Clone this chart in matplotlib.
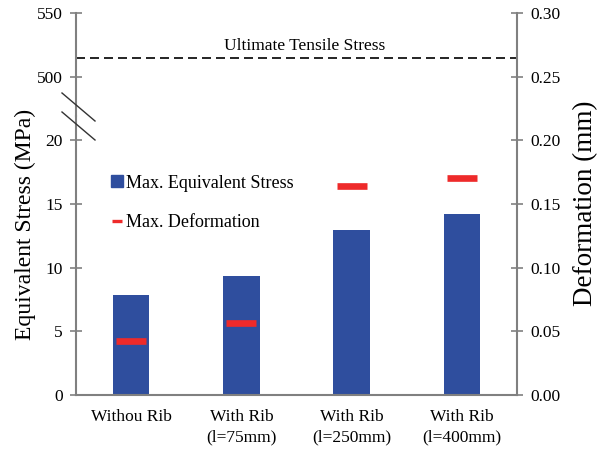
import matplotlib
matplotlib.use("Agg")
import matplotlib.pyplot as plt
from matplotlib.lines import Line2D

plt.rcParams['font.family'] = ['Liberation Serif', 'DejaVu Serif']

categories = ["Withou Rib", "With Rib\n(l=75mm)", "With Rib\n(l=250mm)", "With Rib\n(l=400mm)"]
stress = [7.87, 9.38, 12.95, 14.25]          # MPa
deformation = [0.0424, 0.0568, 0.1644, 0.1702]  # mm
uts = 515                                     # MPa
low_ticks = [0, 5, 10, 15, 20]
high_ticks = [500, 550]
def_ticks = [0.00, 0.05, 0.10, 0.15, 0.20, 0.25, 0.30]

BLUE = '#2F4E9E'
RED = '#EE2A2A'
GRAY = '#808080'

W, H = 605, 450
fig = plt.figure(figsize=(W / 100, H / 100), dpi=100)

def fx(px):
    return px / W

def fy(py):
    return 1 - py / H

x_left, x_right = 76, 517
y_bot, y_break, y_top = 395, 116, 13
wfrac = fx(x_right) - fx(x_left)

ax_lo = fig.add_axes([fx(x_left), fy(y_bot), wfrac, fy(y_break) - fy(y_bot)])
ax_hi = fig.add_axes([fx(x_left), fy(y_break), wfrac, fy(y_top) - fy(y_break)])
ax_r = fig.add_axes([fx(x_left), fy(y_bot), wfrac, fy(y_top) - fy(y_bot)])

px_per_unit = (y_bot - y_top) / 30.0
xs = list(range(len(categories)))

# lower stress axis
ax_lo.bar(xs, stress, width=0.33, color=BLUE, zorder=2)
ax_lo.set_xlim(-0.5, len(categories) - 0.5)
ax_lo.set_ylim(0, (y_bot - y_break) / px_per_unit)
ax_lo.set_yticks(low_ticks)
ax_lo.set_xticks(xs)
ax_lo.set_xticklabels(categories, fontsize=12.5, linespacing=1.4)
ax_lo.tick_params(axis='x', length=0, pad=10)
ax_lo.tick_params(axis='y', direction='inout', length=9, width=1.2, color=GRAY, labelsize=12.5, pad=5)
for s in ['top', 'right']:
    ax_lo.spines[s].set_visible(False)
for s in ['left', 'bottom']:
    ax_lo.spines[s].set_color(GRAY)
    ax_lo.spines[s].set_linewidth(1.5)

# upper stress axis
ax_hi.set_xlim(-0.5, len(categories) - 0.5)
ax_hi.set_ylim(550 - (y_break - y_top) / px_per_unit * 10, 550)
ax_hi.set_yticks(high_ticks)
ax_hi.set_xticks([])
ax_hi.tick_params(axis='y', direction='inout', length=9, width=1.2, color=GRAY, labelsize=12.5, pad=5)
for s in ['top', 'right', 'bottom']:
    ax_hi.spines[s].set_visible(False)
ax_hi.spines['left'].set_color(GRAY)
ax_hi.spines['left'].set_linewidth(1.5)
ax_hi.patch.set_alpha(0)
ax_hi.axhline(uts, color='black', lw=1.2, linestyle=(0, (5.4, 3.0)))
ax_hi.text((305 - x_left) / (x_right - x_left), (y_break - 46) / (y_break - y_top),
           "Ultimate Tensile Stress", transform=ax_hi.transAxes,
           ha='center', va='center', fontsize=12.5)

# deformation axis (right)
ax_r.patch.set_alpha(0)
ax_r.set_xlim(-0.5, len(categories) - 0.5)
ax_r.set_ylim(0, 0.30)
ax_r.plot(xs, deformation, linestyle='none', marker='_', markersize=21,
          markeredgewidth=4.8, color=RED, zorder=3)
ax_r.yaxis.tick_right()
ax_r.set_yticks(def_ticks)
ax_r.set_yticklabels([f"{t:.2f}" for t in def_ticks])
ax_r.set_xticks([])
ax_r.tick_params(axis='y', direction='inout', length=9, width=1.2, color=GRAY, labelsize=12.5, pad=5)
for s in ['top', 'left', 'bottom']:
    ax_r.spines[s].set_visible(False)
ax_r.spines['right'].set_color(GRAY)
ax_r.spines['right'].set_linewidth(1.5)

# break marks
for y0 in (93, 112):
    fig.add_artist(Line2D([fx(62), fx(95)], [fy(y0), fy(y0 + 28)], color='#333333', lw=1.0))

# axis labels
fig.text(fx(25), fy(224), "Equivalent Stress (MPa)", rotation=90, ha='center', va='center', fontsize=17)
fig.text(fx(586), fy(203), "Deformation (mm)", rotation=90, ha='center', va='center', fontsize=19.5)

# legend
handles = [Line2D([], [], linestyle='none', marker='s', markersize=8, color=BLUE),
           Line2D([], [], linestyle='none', marker='_', markersize=7.2, markeredgewidth=2.4, color=RED)]
labels = ["Max. Equivalent Stress", "Max. Deformation"]
fig.legend(handles, labels, loc='center left', bbox_to_anchor=(fx(110), fy(203)),
           frameon=False, fontsize=13, handlelength=0.8, handletextpad=0.1,
           labelspacing=1.25, borderpad=0, borderaxespad=0)

fig.savefig("out.png", dpi=100)
